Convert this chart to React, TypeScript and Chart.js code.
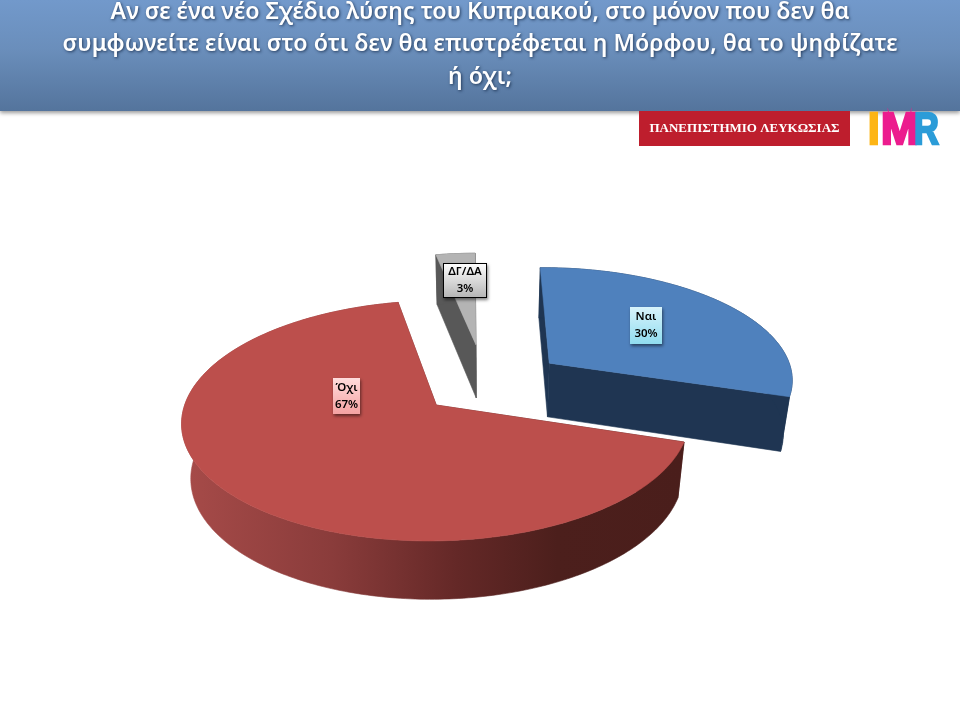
import React, { useEffect, useRef } from "react";
import { Chart, registerables } from "chart.js";

Chart.register(...registerables);

const categories = ["Ναι", "Όχι", "ΔΓ/ΔΑ"];
const values = [30, 67, 3];
const titleLines = [
  "Αν σε ένα νέο Σχέδιο λύσης του Κυπριακού, στο μόνον που δεν θα",
  "συμφωνείτε είναι στο ότι δεν θα επιστρέφεται η Μόρφου, θα το ψηφίζατε",
  "ή όχι;",
];
const universityLogoText = "ΠΑΝΕΠΙΣΤΗΜΙΟ ΛΕΥΚΩΣΙΑΣ";

const topColors = ["#4F81BD", "#BC4F4C", "#B4B4B4"];
const wallColors = ["#1F3552", "", "#585858"];
const explode = [82, 64, 92];
const labelNudges = [
  [6, -7],
  [10, -50],
  [0, -16],
];
const labelSizes = [
  [32, 37],
  [27, 36],
  [44, 35],
];
const labelGradients = [
  ["#D8F3FB", "#90DDF0"],
  ["#FFDCDC", "#F4A2A2"],
  ["#FFFFFF", "#B4B4B4"],
];

const PAN_X = 5;
const TILT = 0.459;
const PERSP_V = 0.128;
const PERSP_Z = 0.03;
const DEPTH = 56;

type Pt = [number, number];

function projector(arc: any) {
  const R = arc.outerRadius;
  const off = (arc.options.offset || 0) / R;
  const mid = (arc.startAngle + arc.endAngle) / 2;
  const ou = off * Math.cos(mid);
  const ov = -off * Math.sin(mid);
  return (r: number, ang: number, z: number): Pt => {
    const u = ou + r * Math.cos(ang);
    const v = ov - r * Math.sin(ang);
    const w = 1 + PERSP_V * v + PERSP_Z * z;
    return [arc.x + PAN_X + (R * u) / w, arc.y + (-R * TILT * v + DEPTH * z) / w];
  };
}

function poly(ctx: CanvasRenderingContext2D, pts: Pt[], fill: any) {
  ctx.beginPath();
  pts.forEach((p, i) => (i ? ctx.lineTo(p[0], p[1]) : ctx.moveTo(p[0], p[1])));
  ctx.closePath();
  ctx.fillStyle = fill;
  ctx.strokeStyle = fill;
  ctx.lineWidth = 0.6;
  ctx.fill();
  ctx.stroke();
}

function rimPoints(p: any, a0: number, a1: number, z: number) {
  const n = Math.max(2, Math.ceil(((a1 - a0) * 180) / Math.PI));
  const out: Pt[] = [];
  for (let i = 0; i <= n; i++) out.push(p(1, a0 + ((a1 - a0) * i) / n, z));
  return out;
}

const pie3d = {
  id: "pie3d",
  beforeDraw(chart: any) {
    const { ctx, width, height } = chart;
    ctx.save();
    ctx.fillStyle = "#FFFFFF";
    ctx.fillRect(0, 0, width, height);
    ctx.shadowColor = "rgba(0,0,0,0.4)";
    ctx.shadowBlur = 4;
    ctx.shadowOffsetY = 2;
    const g = ctx.createLinearGradient(0, 0, 0, 111);
    g.addColorStop(0, "#7299CB");
    g.addColorStop(0.45, "#6A8EBB");
    g.addColorStop(1, "#54749C");
    ctx.fillStyle = g;
    ctx.fillRect(0, 0, width, 111);
    ctx.restore();
    // glow carried over to the title block, which is drawn next
    ctx.shadowColor = "rgba(20,40,70,0.8)";
    ctx.shadowBlur = 3;
    ctx.shadowOffsetX = 1;
    ctx.shadowOffsetY = 1;
  },
  beforeDatasetsDraw(chart: any) {
    const ctx = chart.ctx;
    ctx.shadowColor = "transparent";
    ctx.shadowBlur = 0;
    ctx.shadowOffsetX = 0;
    ctx.shadowOffsetY = 0;
  },
  beforeDatasetDraw(chart: any) {
    const ctx = chart.ctx as CanvasRenderingContext2D;
    const arcs = chart.getDatasetMeta(0).data;
    const wallGrad = ctx.createLinearGradient(181, 0, 683, 0);
    wallGrad.addColorStop(0, "#A74B49");
    wallGrad.addColorStop(0.3, "#8A3C3B");
    wallGrad.addColorStop(0.55, "#642827");
    wallGrad.addColorStop(0.75, "#4C1F1C");
    wallGrad.addColorStop(1, "#4A1E1B");
    // back to front: grey, blue, red
    [2, 0, 1].forEach((i) => {
      const arc = arcs[i];
      const p = projector(arc);
      const wall = wallColors[i] || wallGrad;
      const a0 = arc.startAngle;
      const a1 = arc.endAngle;
      poly(ctx, [p(0, a0, 0), p(1, a0, 0), p(1, a0, 1), p(0, a0, 1)], wall);
      poly(ctx, [p(0, a1, 0), p(1, a1, 0), p(1, a1, 1), p(0, a1, 1)], wall);
      poly(ctx, [...rimPoints(p, a0, a1, 0), ...rimPoints(p, a0, a1, 1).reverse()], wall);
      poly(ctx, [p(0, a0, 0), ...rimPoints(p, a0, a1, 0)], topColors[i]);
    });
    return false;
  },
  afterDatasetsDraw(chart: any) {
    const ctx = chart.ctx as CanvasRenderingContext2D;
    const arcs = chart.getDatasetMeta(0).data;
    [0, 1, 2].forEach((i) => {
      const arc = arcs[i];
      const p = projector(arc);
      const [ax, ay] = p(0.5, (arc.startAngle + arc.endAngle) / 2, 0);
      const [bw, bh] = labelSizes[i];
      const cx = ax + labelNudges[i][0];
      const cy = ay + labelNudges[i][1];
      const x = Math.round(cx - bw / 2);
      const y = Math.round(cy - bh / 2);
      ctx.save();
      ctx.shadowColor = "rgba(0,0,0,0.5)";
      ctx.shadowBlur = 3;
      ctx.shadowOffsetX = 1;
      ctx.shadowOffsetY = 2;
      const g = ctx.createLinearGradient(0, y, 0, y + bh);
      g.addColorStop(0, labelGradients[i][0]);
      g.addColorStop(1, labelGradients[i][1]);
      ctx.fillStyle = g;
      ctx.fillRect(x, y, bw, bh);
      ctx.restore();
      if (i === 2) {
        ctx.strokeStyle = "#000";
        ctx.lineWidth = 1;
        ctx.strokeRect(x + 0.5, y + 0.5, bw - 1, bh - 1);
      }
      ctx.fillStyle = "#000";
      ctx.textAlign = "center";
      ctx.textBaseline = "middle";
      ctx.font = '600 11.5px "Noto Sans"';
      ctx.fillText(categories[i], x + bw / 2, y + bh / 2 - 8.5);
      ctx.fillText(`${values[i]}%`, x + bw / 2, y + bh / 2 + 8.5);
    });
  },
  afterDraw(chart: any) {
    const ctx = chart.ctx as CanvasRenderingContext2D;
    ctx.save();
    ctx.fillStyle = "#BE1E2D";
    ctx.fillRect(639, 111, 211, 35);
    ctx.fillStyle = "#FFFFFF";
    ctx.font = 'bold 13px "Liberation Serif"';
    ctx.textAlign = "center";
    ctx.textBaseline = "middle";
    ctx.fillText(universityLogoText, 744.5, 129);
    ctx.textAlign = "left";
    ctx.textBaseline = "alphabetic";
    ctx.font = 'bold 44px "Liberation Sans"';
    const letters: [string, string, number, number][] = [
      ["I", "#FDB515", 868, 0.95],
      ["M", "#EC1C8E", 881, 1.02],
      ["R", "#2B9CD8", 914, 0.78],
    ];
    letters.forEach(([t, c, x, sx]) => {
      ctx.save();
      ctx.translate(x, 143.5);
      ctx.scale(sx, 1);
      ctx.fillStyle = c;
      ctx.strokeStyle = c;
      ctx.lineWidth = 2.5;
      ctx.lineJoin = "miter";
      ctx.strokeText(t, 0, 0);
      ctx.fillText(t, 0, 0);
      ctx.restore();
    });
    ctx.restore();
  },
};

export default function App() {
  const ref = useRef<HTMLCanvasElement>(null);
  useEffect(() => {
    document.body.style.background = "#fff";
    const chart = new Chart(ref.current!, {
      type: "pie",
      data: {
        labels: categories,
        datasets: [
          {
            data: values,
            backgroundColor: topColors,
            borderWidth: 0,
            offset: explode,
          } as any,
        ],
      },
      options: {
        responsive: false,
        animation: false,
        radius: 246,
        rotation: -0.5,
        layout: { padding: { left: 0, top: 0, bottom: 51.5, right: 0 } },
        plugins: {
          legend: { display: false },
          tooltip: { enabled: false },
          title: {
            display: true,
            text: titleLines,
            color: "#FFFFFF",
            font: { family: '"Noto Sans"', size: 23.2, weight: "600", lineHeight: 1.4 },
            padding: { top: -4, bottom: 8 },
          },
        },
      } as any,
      plugins: [pie3d],
    });
    return () => chart.destroy();
  }, []);
  return (
    <div style={{ position: "fixed", left: 0, top: 0, width: 960, height: 720 }}>
      <canvas ref={ref} width={960} height={720} style={{ display: "block" }} />
    </div>
  );
}
